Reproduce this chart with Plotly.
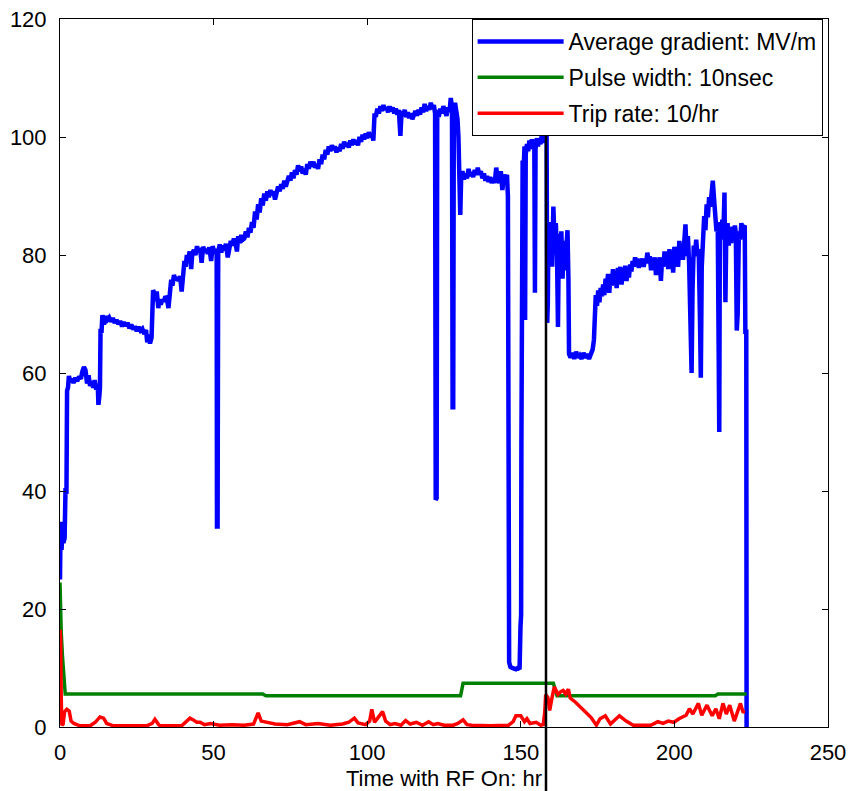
import plotly.graph_objects as go

# ---------------- data ----------------
grad_x = [0.0, 0.2, 0.5, 0.8, 1.1, 1.5, 1.8, 2.1, 2.3, 2.6, 2.9, 3.4, 3.9, 4.4, 5.0, 5.6, 6.2, 6.8, 7.3, 7.8,
          8.3, 8.8, 9.3, 9.8, 10.3, 10.8, 11.3, 11.8, 12.3, 12.5, 12.8, 13.0, 13.2, 13.5, 13.8, 14.3, 14.8, 15.4,
          16.0, 16.6, 17.2, 17.8, 18.4, 19.0, 19.6, 20.2, 20.8, 21.4, 22.0, 22.6, 23.2, 23.8, 24.4, 25.0, 25.6,
          26.2, 26.8, 27.4, 28.0, 28.4, 28.8, 29.3, 29.8, 30.3, 30.7, 31.1, 31.5, 32.0, 32.4, 32.8, 33.3, 33.8,
          34.3, 34.8, 35.3, 35.7, 36.2, 36.6, 37.1, 37.6, 38.1, 38.6, 39.1, 39.6, 40.1, 40.5, 40.9, 41.3, 41.7,
          42.2, 42.7, 43.1, 43.6, 44.1, 44.6, 45.1, 45.6, 46.1, 46.6, 47.1, 47.6, 48.1, 48.6, 49.2, 49.7, 50.2,
          50.7, 51.0, 51.1, 51.3, 51.5, 52.0, 52.5, 53.0, 53.5, 54.0, 54.6, 55.1, 55.6, 56.1, 56.6, 57.1, 57.6,
          58.0, 58.5, 59.0, 59.5,
          60.0, 60.5, 61.0, 61.5, 62.0, 62.5, 63.0, 63.5, 64.0, 64.5, 65.0, 65.5, 66.0, 66.5, 67.0, 67.5, 68.0,
          68.5, 69.0, 69.5, 70.0, 70.5, 71.0, 71.5, 72.0, 72.5, 73.0, 73.5, 74.0, 74.5, 75.0, 75.5, 76.0, 76.5,
          77.0, 77.5, 78.0, 78.5, 79.0, 79.5, 80.0, 80.5, 81.0, 81.5, 82.0, 82.5, 83.0, 83.5, 84.0, 84.5, 85.0,
          85.5, 86.0, 86.5, 87.0, 87.5, 88.0, 88.5, 89.0, 89.5, 90.0, 90.5, 91.0, 91.5, 92.0, 92.5, 93.0, 93.5,
          94.0, 94.5, 95.0, 95.5, 96.0, 96.5, 97.0, 97.5, 98.0, 98.5, 99.0, 99.5, 100.0, 100.5, 101.0, 101.5,
          102.0, 102.4, 102.8, 103.3, 103.8, 104.3, 104.8, 105.3, 105.8, 106.3, 106.8, 107.3, 107.8, 108.3,
          108.8, 109.3, 109.8, 110.3, 110.8, 111.2, 111.7, 112.2, 112.7, 113.2, 113.7, 114.2, 114.7, 115.2,
          115.7, 116.2, 116.7, 117.2, 117.7, 118.2, 118.7, 119.2, 119.7, 120.2, 120.7, 121.2, 121.7, 122.1,
          122.3, 122.6, 122.8, 123.3, 123.8, 124.3, 124.8, 125.3, 125.8, 126.3, 126.8, 127.2, 127.6, 127.8,
          128.0, 128.2, 128.6, 129.0, 129.4, 129.7, 130.0, 130.3, 130.6, 131.0, 131.5, 132.0, 132.5, 133.0,
          133.5, 134.0, 134.5, 135.0, 135.5, 136.0, 136.5, 137.0, 137.5, 138.0, 138.5, 139.0, 139.5, 140.0,
          140.5, 141.0, 141.5, 142.0, 142.5, 143.0, 143.5, 144.0, 144.5, 145.0, 145.5, 145.8, 146.2, 146.6,
          147.2, 147.8, 148.4, 149.0, 149.6, 149.9, 150.1, 150.2, 150.3, 150.6, 150.9, 151.2, 151.4, 151.6,
          152.0, 152.4, 152.8, 153.2, 153.6, 154.0, 154.4, 154.6, 154.8, 155.2, 155.6, 156.0, 156.4, 156.8,
          157.2, 157.6, 158.0, 158.4, 158.6, 158.8, 159.0, 159.4, 159.8, 160.2, 160.6, 161.0, 161.4, 161.8,
          162.1, 162.4, 162.8, 163.2, 163.6, 164.0, 164.4, 164.8, 165.2, 165.5, 165.7, 166.2, 166.8, 167.4,
          168.0, 168.6, 169.2, 169.8, 170.4, 171.0, 171.6, 172.2, 172.8, 173.4, 173.8, 174.0, 174.4, 174.8,
          175.2, 175.6, 176.0, 176.4, 176.8, 177.2, 177.6, 178.0, 178.4, 178.8, 179.2, 179.6, 180.0, 180.4,
          180.8, 181.2, 181.6, 182.0, 182.4, 182.8, 183.2, 183.6, 184.0, 184.4, 184.8, 185.2, 185.6, 186.0,
          186.4, 186.8, 187.2, 187.6, 188.0, 188.4, 188.8, 189.2, 189.6, 190.0, 190.4, 190.8, 191.2, 191.6,
          192.0, 192.4, 192.8, 193.2, 193.6, 194.0, 194.4, 194.8, 195.2, 195.6, 196.0, 196.4, 196.8, 197.2,
          197.6, 198.0, 198.4, 198.8, 199.2, 199.6, 200.0, 200.4, 200.8, 201.2, 201.6, 202.0, 202.4, 202.8,
          203.2, 203.6, 204.0, 204.4, 204.8, 205.2, 205.6, 205.9, 206.3, 206.7, 207.1, 207.5, 207.9, 208.3,
          208.6, 208.9, 209.3, 209.7, 210.1, 210.5, 210.9, 211.3, 211.7, 212.1, 212.5, 212.9, 213.3, 213.7,
          214.1, 214.4, 214.6, 214.8, 215.2, 215.6, 216.0, 216.3, 216.6, 216.9, 217.3, 217.7, 218.1, 218.5,
          218.9, 219.3, 219.7, 220.0, 220.3, 220.6, 221.0, 221.4, 221.8, 222.2, 222.6, 222.9, 223.1, 223.4,
          223.5]
grad_y = [25.0, 34.8, 30.0, 33.5, 31.2, 32.0, 40.5, 39.5, 57.0, 57.5, 59.5, 58.5, 59.0, 58.3, 59.2, 58.6, 59.4,
          59.0, 60.3, 61.0, 60.5, 58.2, 59.6, 57.8, 58.6, 57.5, 58.8, 57.2, 58.0, 54.6, 56.0, 57.5, 67.5, 66.8,
          69.8, 68.2, 69.6, 69.0, 69.4, 68.7, 69.3, 68.5, 69.0, 68.3, 68.8, 67.9, 68.6, 68.0, 68.5, 67.6, 68.2,
          67.4, 67.9, 67.1, 67.8, 67.2, 67.5, 66.6, 67.3, 65.2, 66.5, 65.0, 66.0, 74.0, 73.6, 72.2, 73.8, 71.0,
          72.5, 71.6, 72.4, 72.1, 73.0, 72.6, 71.0, 74.0, 75.8, 74.8, 76.6, 75.8, 76.2, 75.6, 76.4, 73.8, 77.5,
          79.0, 78.0, 80.0, 79.0, 80.6, 77.6, 80.4, 80.8, 80.0, 81.5, 80.4, 81.2, 78.7, 81.4, 80.6, 81.0, 80.2,
          81.3, 79.0, 81.5, 80.5, 81.0, 80.0, 34.0, 34.0, 80.6, 81.8, 80.4, 81.6, 80.8, 81.9, 79.6, 81.2, 82.4,
          81.6, 82.8, 82.0, 80.6, 83.2, 82.0, 83.4, 82.6,
          82.8, 84.0, 83.0, 84.6, 83.8, 85.6, 84.6, 87.4, 86.0, 88.6, 87.2, 89.6, 88.4, 90.4, 89.2, 90.8, 89.8,
          91.0, 90.2, 90.8, 89.4, 90.6, 91.6, 90.8, 92.0, 91.2, 92.6, 91.6, 92.4, 93.4, 92.6, 94.0, 93.0, 94.4,
          93.6, 95.2, 94.2, 95.0, 93.8, 94.6, 93.6, 95.4, 94.6, 95.8, 95.0, 95.8, 94.8, 95.4, 94.6, 96.2, 95.4,
          97.0, 96.2, 97.8, 97.0, 98.4, 97.6, 98.6, 97.8, 98.4, 97.4, 98.2, 97.6, 98.8, 98.0, 99.2, 98.4, 99.0,
          98.2, 99.4, 98.6, 99.6, 98.8, 99.4, 98.6, 100.0, 99.2, 100.4, 99.6, 100.6, 99.8, 100.8, 100.0, 100.6,
          99.4, 104.0, 103.4, 104.8, 104.0, 105.2, 104.4, 105.4, 104.6, 105.0, 104.2, 105.2, 104.4, 105.0,
          104.0, 104.8, 103.8, 104.6, 100.2, 104.4, 103.6, 104.6, 103.4, 104.2, 103.2, 104.0, 103.0, 103.8,
          104.4, 103.6, 104.6, 103.8, 105.0, 104.2, 105.6, 104.4, 105.2, 104.6, 105.8, 104.8, 105.4, 104.0,
          38.5, 38.8, 104.6, 103.4, 104.8, 104.0, 105.2, 104.2, 103.6, 105.0, 104.2, 106.6, 105.0, 54.2,
          54.2, 104.6, 105.8, 104.4, 103.0, 100.0, 95.0, 86.8, 93.4, 94.2, 92.8, 93.8, 93.0, 94.6,
          93.4, 94.0, 93.2, 94.4, 93.6, 94.8, 93.6, 94.2, 93.0, 93.8, 92.6, 93.4, 92.4, 93.2,
          92.2, 93.0, 92.2, 94.8, 93.0, 92.2, 94.2, 91.0, 93.6, 92.8, 93.6, 90.0, 11.0, 10.2,
          10.0, 9.8, 9.8, 10.0, 9.8, 17.0, 19.0, 48.0, 92.0, 96.0, 94.0, 98.4, 69.0, 97.0,
          98.8, 97.6, 99.4, 98.0, 99.6, 98.4, 99.0, 73.6, 98.0, 99.8, 98.4, 99.6, 98.8, 100.2,
          99.0, 100.6, 99.2, 100.8, 68.5, 72.0, 84.6, 80.4, 85.6, 78.0, 88.2, 82.0, 85.4, 79.6,
          67.8, 83.6, 78.4, 84.0, 76.0, 82.4, 77.4, 80.6, 84.2, 76.0, 63.2, 62.6, 63.4, 62.4,
          63.6, 62.6, 63.0, 62.4, 63.4, 62.6, 63.2, 62.4, 63.0, 64.0, 65.6, 70.4, 73.2, 71.4,
          74.0, 72.0, 74.4, 73.0, 75.0, 73.2, 76.0, 74.6, 76.8, 73.6, 76.6, 74.8, 77.6, 75.4,
          77.0, 74.4, 77.8, 75.6, 78.0, 75.0, 77.4, 76.0, 78.2, 75.6, 77.6, 76.2, 78.4, 77.2,
          79.0, 78.0, 79.6, 78.4, 79.4, 77.8, 79.0, 78.6, 79.4, 78.0, 79.2, 78.6, 80.4, 78.8,
          79.8, 77.4, 79.4, 78.0, 79.6, 76.6, 79.0, 77.8, 79.6, 75.6, 79.2, 78.0, 80.6, 78.8,
          80.6, 77.6, 81.0, 78.4, 80.0, 77.0, 81.4, 78.6, 80.2, 78.0, 82.4, 79.6, 81.6, 79.2,
          82.0, 85.2, 79.8, 83.2, 78.4, 69.6, 60.0, 74.0, 81.6, 80.0, 82.6, 79.8, 81.0, 70.0,
          59.2, 78.0, 83.4, 86.6, 84.2, 88.6, 86.4, 89.8, 88.2, 91.4, 92.6, 89.6, 87.0, 84.0,
          85.6, 50.0, 50.0, 85.2, 82.6, 86.0, 84.4, 90.6, 72.0, 84.0, 85.4, 81.6, 84.6, 82.0,
          84.8, 83.0, 85.0, 83.6, 67.2, 70.0, 84.0, 82.6, 85.4, 84.0, 84.8, 85.0, 67.0, 67.0,
          0.0]

pulse_x = [0.0, 0.15, 0.4, 0.8, 1.1, 1.4, 1.7, 66.0, 67.0, 130.4, 131.2, 160.6, 161.8, 213.3, 214.2, 223.5]
pulse_y = [24.5, 16.0, 16.0, 12.0, 9.0, 7.6, 5.6, 5.6, 5.3, 5.3, 7.4, 7.4, 5.3, 5.3, 5.6, 5.6]

trip_x = [0.0, 0.2, 0.4, 0.6, 1.0, 1.5, 2.2, 3.0, 3.6, 4.5, 6.5, 9.8, 11.5, 13.0, 14.2, 15.2, 17.4, 28.2,
          30.0, 30.9, 32.0, 32.5, 39.6, 41.0, 42.3, 43.4, 44.5, 45.6, 47.0, 49.0, 52.0, 56.0, 60.0, 63.0,
          64.5, 65.5, 67.0, 70.0, 74.0, 78.0, 80.0, 84.0, 88.0, 92.0, 94.0, 95.8, 97.0, 99.5, 100.8, 101.5,
          102.4, 103.2, 105.0, 106.0, 107.5, 109.0, 111.0, 112.5, 114.0, 116.0, 118.0, 120.0, 121.5, 123.0,
          125.0, 128.0, 129.5, 131.2, 132.5, 134.0, 140.0, 146.0, 147.5, 148.4, 150.0, 151.2, 152.0, 153.0,
          155.0, 156.5, 157.3, 157.8, 158.1, 158.8, 159.4, 160.1, 160.9, 162.1, 163.0, 163.8, 164.6, 165.5,
          166.1, 167.8, 169.5, 171.2, 172.9, 174.6, 175.8, 177.5, 179.2, 180.6, 182.1, 184.3, 186.6, 192.3,
          194.6, 196.3, 198.0, 199.8, 201.5, 203.8, 204.9, 206.0, 207.8, 208.9, 210.6, 212.3, 213.5, 214.6,
          215.8, 216.9, 218.0, 219.5, 220.5, 221.5, 222.3, 223.0]
trip_y = [16.5, 15.0, 5.0, 0.3, 0.5, 2.6, 3.0, 2.7, 1.0, 0.6, 0.2, 0.2, 0.8, 1.7, 1.5, 0.6, 0.2, 0.2,
          0.6, 1.3, 0.5, 0.2, 0.2, 0.8, 1.5, 1.2, 0.8, 0.8, 0.4, 0.6, 0.3, 0.4, 0.3, 0.5,
          2.4, 1.0, 0.8, 0.5, 0.4, 0.9, 0.4, 0.6, 0.3, 0.5, 0.8, 1.5, 0.7, 0.4, 1.0, 3.0,
          0.8, 1.4, 2.6, 1.0, 0.4, 0.6, 0.3, 1.1, 0.5, 0.8, 0.3, 0.9, 0.4, 0.6,
          0.3, 0.3, 0.6, 1.2, 0.4, 0.3, 0.2, 0.3, 0.9, 1.9, 1.9, 0.9, 1.4, 0.6,
          0.8, 0.3, 0.4, 2.5, 5.5, 5.0, 2.8, 4.8, 6.8, 5.5, 6.0, 6.2, 5.6, 6.4,
          4.9, 4.2, 3.4, 2.5, 1.6, 0.3, 1.4, 1.9, 0.5, 1.2, 1.9, 1.0, 0.3, 0.3,
          0.9, 0.6, 1.0, 0.8, 1.4, 2.0, 3.1, 2.2, 4.0, 2.0, 3.7, 1.9, 3.1, 1.4,
          4.0, 2.2, 3.7, 1.0, 2.4, 4.0, 2.6, 2.5]

marker_time = 158.2          # vertical reference line position (hr)
x_ticks = [0, 50, 100, 150, 200, 250]
y_ticks = [0, 20, 40, 60, 80, 100, 120]
series_names = ["Average gradient: MV/m", "Pulse width: 10nsec", "Trip rate: 10/hr"]

# ---------------- figure ----------------
FONT = "Liberation Sans, Arial, Helvetica, sans-serif"

fig = go.Figure()
fig.add_trace(go.Scatter(x=grad_x, y=grad_y, mode="lines", name=series_names[0], legendgroup="a",
                         line=dict(color="#0000FF", width=4.5)))
fig.add_trace(go.Scatter(x=pulse_x, y=pulse_y, mode="lines", name=series_names[1], legendgroup="b",
                         line=dict(color="#008000", width=3.5)))
fig.add_trace(go.Scatter(x=trip_x, y=trip_y, mode="lines", name=series_names[2], legendgroup="c",
                         line=dict(color="#FF0000", width=3.5)))

fig.add_shape(type="line", xref="x", yref="paper", x0=marker_time, x1=marker_time, y0=-0.1, y1=1.0,
              line=dict(color="black", width=2.5), layer="above")

axis_common = dict(showline=True, linecolor="black", linewidth=1, mirror="ticks", ticks="inside",
                   ticklen=6, tickcolor="black", tickwidth=1, showgrid=False, zeroline=False,
                   automargin=False,
                   tickfont=dict(family=FONT, size=22, color="black"))

fig.update_layout(
    width=850, height=791,
    margin=dict(l=60, r=22, t=19, b=64, autoexpand=False),
    paper_bgcolor="white", plot_bgcolor="white",
    font=dict(family=FONT, size=22, color="black"),
    xaxis=dict(range=[0, 250], tickvals=x_ticks, ticklabelstandoff=6,
               title=dict(text="Time with RF On: hr", font=dict(family=FONT, size=22), standoff=6),
               **axis_common),
    yaxis=dict(range=[0, 120], tickvals=y_ticks, ticklabelstandoff=8, **axis_common),
    legend=dict(x=0.993, y=1.0, xanchor="right", yanchor="top", bgcolor="white",
                bordercolor="black", borderwidth=1, font=dict(family=FONT, size=23),
                itemwidth=86, tracegroupgap=3),
    showlegend=True,
)

fig.write_html("out.html")
